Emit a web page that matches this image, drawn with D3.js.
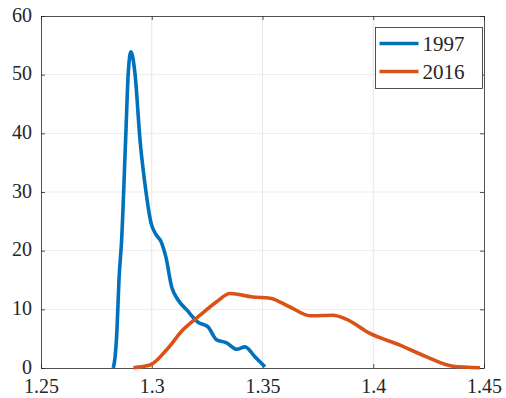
<!DOCTYPE html>
<html>
<head>
<meta charset="utf-8">
<script src="https://cdn.jsdelivr.net/npm/d3@7"></script>
<style>
  body { margin: 0; background: #fff; }
  #chart { width: 506px; height: 398px; }
  svg text { font-family: "Liberation Serif", "DejaVu Serif", serif !important; fill: #262626; }
</style>
</head>
<body>
<div id="chart"></div>
<script>
// density curves
const years = ["1997", "2016"];
const colors = ["#0072BD", "#D95319"];

const x1997 = [1.2826, 1.2834, 1.2843, 1.2852, 1.2864, 1.2882, 1.2894, 1.2906, 1.2924, 1.2947, 1.2973, 1.2997,
    1.3015, 1.3045, 1.3064, 1.3090, 1.3119, 1.3158, 1.3209, 1.3254, 1.3293, 1.3338, 1.3384, 1.3421, 1.3466, 1.3511];
const y1997 = [0, 1.7, 6.5, 15, 21.8, 38.9, 50.3, 53.9, 50.3, 38.9, 30.3, 24.7,
    23.0, 21.3, 18.9, 13.8, 11.6, 9.9, 7.8, 7.0, 4.8, 4.3, 3.2, 3.6, 1.9, 0.2];

const x2016 = [1.2917, 1.2992, 1.3067, 1.3141, 1.3218, 1.3293, 1.3353, 1.3457, 1.3534, 1.3624, 1.3714, 1.3818,
    1.3880, 1.3985, 1.4121, 1.4241, 1.4360, 1.4482];
const y2016 = [0.05, 0.5, 3.1, 6.5, 9.0, 11.3, 12.7, 12.1, 11.9, 10.4, 8.9, 9.0,
    8.3, 5.9, 3.9, 1.9, 0.3, 0.05];

const xTicks = [1.25, 1.3, 1.35, 1.4, 1.45];
const yTicks = [0, 10, 20, 30, 40, 50, 60];

const w = 506, h = 398;
const margin = { top: 16, right: 22, bottom: 30, left: 41 };
const width = w - margin.left - margin.right;
const height = h - margin.top - margin.bottom;

const svg = d3.select("#chart").append("svg")
    .attr("width", w)
    .attr("height", h)
    .append("g")
    .attr("transform", "translate(" + margin.left + "," + margin.top + ")");

// SCALES
const x = d3.scaleLinear().domain([1.25, 1.45]).range([0, width]);
const y = d3.scaleLinear().domain([0, 60]).range([height, 0]);

// grid
svg.append("g").selectAll("line").data(xTicks.slice(1, -1)).join("line")
    .attr("x1", d => x(d)).attr("x2", d => x(d))
    .attr("y1", 0).attr("y2", height)
    .attr("stroke", "#e6e6e6").attr("stroke-width", 1);
svg.append("g").selectAll("line").data(yTicks.slice(1, -1)).join("line")
    .attr("y1", d => y(d)).attr("y2", d => y(d))
    .attr("x1", 0).attr("x2", width)
    .attr("stroke", "#ebebeb").attr("stroke-width", 1);

// AXES (MATLAB style, ticks inward, box on)
const fmtX = d => d3.format(".2~f")(d);
const xAxis = svg.append("g")
    .attr("transform", "translate(0," + height + ")")
    .call(d3.axisBottom(x).tickValues(xTicks).tickFormat(fmtX).tickSizeInner(-4).tickSizeOuter(0).tickPadding(10));
const yAxis = svg.append("g")
    .call(d3.axisLeft(y).tickValues(yTicks).tickSizeInner(-4).tickSizeOuter(0).tickPadding(9));
svg.append("g")
    .call(d3.axisTop(x).tickValues(xTicks).tickFormat("").tickSizeInner(-4).tickSizeOuter(0));
svg.append("g")
    .attr("transform", "translate(" + width + ",0)")
    .call(d3.axisRight(y).tickValues(yTicks).tickFormat("").tickSizeInner(-4).tickSizeOuter(0));

svg.selectAll(".domain, .tick line").attr("stroke", "#262626").attr("stroke-width", 0.8);
svg.selectAll(".tick text").attr("font-size", 20).attr("fill", "#262626");
xAxis.selectAll(".tick text").attr("dy", "0.74em");
yAxis.selectAll(".tick text").attr("dy", "0.25em");

// LINES
const line = d3.line()
    .x(d => x(d[0]))
    .y(d => y(d[1]))
    .curve(d3.curveMonotoneX);

const series = [d3.zip(x1997, y1997), d3.zip(x2016, y2016)];

svg.selectAll(".line").data(series).join("path")
    .attr("class", "line")
    .attr("fill", "none")
    .attr("stroke", (d, i) => colors[i])
    .attr("stroke-width", 3.6)
    .attr("stroke-linejoin", "round")
    .attr("d", line);

// legend
const lg = svg.append("g").attr("transform", "translate(" + (375.5 - margin.left) + "," + (27.5 - margin.top) + ")");
lg.append("rect").attr("width", 107).attr("height", 61)
    .attr("fill", "#fff").attr("stroke", "#262626").attr("stroke-width", 0.8);
years.forEach((yr, i) => {
    lg.append("line")
        .attr("x1", 4).attr("x2", 43)
        .attr("y1", 16 + i * 28).attr("y2", 16 + i * 28)
        .attr("stroke", colors[i]).attr("stroke-width", 3.6);
    lg.append("text")
        .attr("x", 47).attr("y", 16 + i * 28)
        .attr("dy", "0.35em")
        .attr("font-size", 21)
        .text(yr);
});
</script>
</body>
</html>
